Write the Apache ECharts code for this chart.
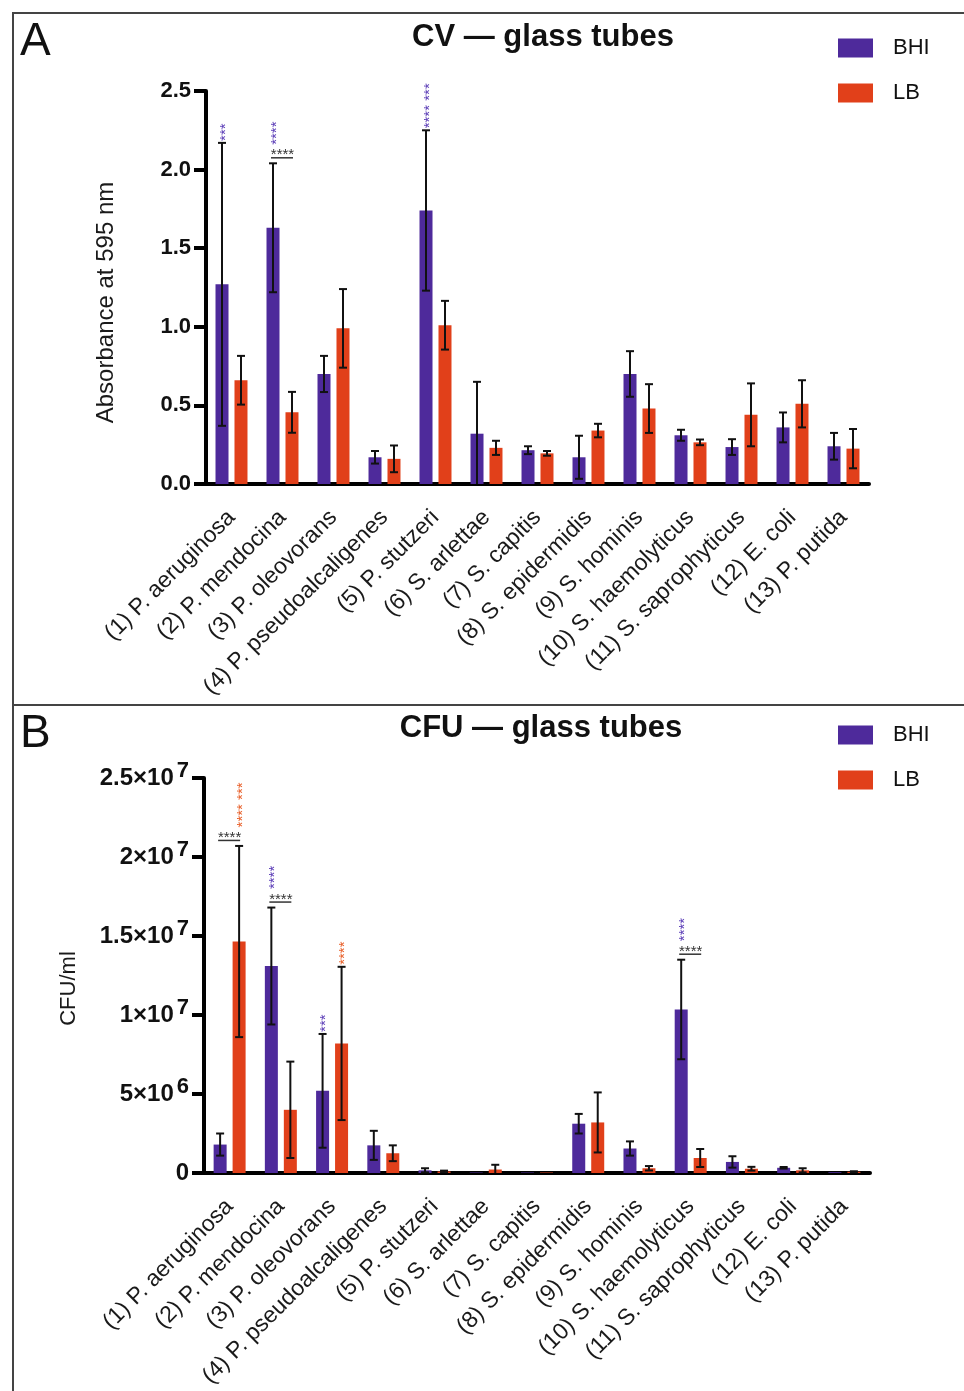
<!DOCTYPE html>
<html><head><meta charset="utf-8">
<script src="https://cdn.jsdelivr.net/npm/echarts@6/dist/echarts.min.js"></script>
<style>html,body{margin:0;padding:0;background:#fff}#c{width:964px;height:1391px}</style>
</head><body><div id="c"></div><script>
// ---------- data ----------
const categories = ['(1) P. aeruginosa','(2) P. mendocina','(3) P. oleovorans','(4) P. pseudoalcaligenes','(5) P. stutzeri','(6) S. arlettae','(7) S. capitis','(8) S. epidermidis','(9) S. hominis','(10) S. haemolyticus','(11) S. saprophyticus','(12) E. coli','(13) P. putida'];
const seriesNames = ['BHI','LB'];

// Panel A: CV absorbance at 595 nm
const cvBHI    = [1.27, 1.63, 0.70, 0.17, 1.74, 0.32, 0.215, 0.17, 0.70, 0.31, 0.235, 0.36, 0.24];
const cvBHIerr = [0.90, 0.41, 0.115, 0.04, 0.51, 0.33, 0.025, 0.137, 0.145, 0.035, 0.05, 0.095, 0.085];
const cvLB     = [0.66, 0.456, 0.99, 0.16, 1.01, 0.23, 0.195, 0.34, 0.48, 0.265, 0.44, 0.51, 0.225];
const cvLBerr  = [0.155, 0.13, 0.25, 0.085, 0.155, 0.045, 0.015, 0.043, 0.155, 0.018, 0.2, 0.15, 0.125];
const cvTicks  = [0, 0.5, 1.0, 1.5, 2.0, 2.5];

// Panel B: CFU/ml
const cfuBHI    = [1.8e6, 13.1e6, 5.2e6, 1.75e6, 0.17e6, 0.03e6, 0.03e6, 3.12e6, 1.55e6, 10.35e6, 0.7e6, 0.33e6, 0.05e6];
const cfuBHIerr = [0.7e6, 3.7e6, 3.6e6, 0.92e6, 0.13e6, 0, 0, 0.62e6, 0.45e6, 3.15e6, 0.36e6, 0.05e6, 0];
const cfuLB     = [14.65e6, 4.0e6, 8.2e6, 1.25e6, 0.1e6, 0.22e6, 0.03e6, 3.2e6, 0.3e6, 0.95e6, 0.27e6, 0.17e6, 0.08e6];
const cfuLBerr  = [6.05e6, 3.05e6, 4.85e6, 0.5e6, 0.05e6, 0.3e6, 0, 1.9e6, 0.14e6, 0.57e6, 0.12e6, 0.13e6, 0.03e6];
const cfuTickLabels = ['0', '5×10|6', '1×10|7', '1.5×10|7', '2×10|7', '2.5×10|7'];

// significance marks: [group index, series, text]
const cvMarks     = [[0,'BHI','***'], [1,'BHI','****'], [4,'BHI','**** ***']];
const cvBrackets  = [[1,'****']];
const cfuMarks    = [[0,'LB','**** ***'], [1,'BHI','****'], [2,'BHI','***'], [2,'LB','****'], [9,'BHI','****']];
const cfuBrackets = [[0,'****'], [1,'****'], [9,'****']];

// ---------- styling ----------
const PURPLE = '#4E2A9B', ORANGE = '#E1401A';
const STAR = {BHI: '#5E40B8', LB: '#E8602A'};
const FONT = '"Liberation Sans", Arial, Helvetica, sans-serif';
const BAR_W = 13, OFFSET = 9.5;
const OFF = {BHI: -OFFSET, LB: OFFSET};

const chart = echarts.init(document.getElementById('c'), null, {renderer: 'canvas'});

function errSeries(name, gi, vals, errs, s) {
  return {
    type: 'custom', name, xAxisIndex: gi, yAxisIndex: gi, z: 5, silent: true, clip: false,
    data: vals.map((v, i) => [i, v, errs[i]]),
    renderItem(params, api) {
      const i = api.value(0), m = api.value(1), e = api.value(2);
      if (!e) return null;
      const t = api.coord([i, m + e]);
      const lowV = Math.max(0, m - e);
      const b = api.coord([i, lowV]);
      const x = t[0] + OFF[s], cw = 4;
      const st = {stroke: '#111', lineWidth: 2};
      const ch = [
        {type: 'line', shape: {x1: x, y1: t[1], x2: x, y2: b[1]}, style: st},
        {type: 'line', shape: {x1: x - cw, y1: t[1], x2: x + cw, y2: t[1]}, style: st}
      ];
      if (m - e > 0) ch.push({type: 'line', shape: {x1: x - cw, y1: b[1], x2: x + cw, y2: b[1]}, style: st});
      return {type: 'group', children: ch};
    }
  };
}

function sigSeries(gi, vals, errs, marks, brackets) {
  const all = marks.concat(brackets);
  return {
    type: 'custom', xAxisIndex: gi, yAxisIndex: gi, z: 6, silent: true, clip: false,
    data: all.map(m => [m[0], 0]),
    renderItem(params, api) {
      const idx = params.dataIndex;
      const g = api.value(0);
      const top = s => {
        const p = api.coord([g, vals[s][g] + errs[s][g]]);
        return [p[0] + OFF[s], p[1]];
      };
      const br = brackets.find(b => b[0] === g);
      const bY = Math.min(top('BHI')[1], top('LB')[1]) - 5.5;
      if (idx < marks.length) {
        const m = marks[idx];
        const p = top(m[1]);
        const y = br ? bY - 13 : p[1] - 2;
        return {type: 'text', x: p[0] + 3.5, y: y, rotation: Math.PI / 2,
          style: {text: m[2], fill: STAR[m[1]], font: '15px ' + FONT, align: 'left', verticalAlign: 'middle'}};
      }
      const b = brackets[idx - marks.length];
      const x1 = top('BHI')[0], x2 = top('LB')[0];
      return {type: 'group', children: [
        {type: 'line', shape: {x1: x1 - 2, y1: bY, x2: x2 + 1, y2: bY}, style: {stroke: '#333', lineWidth: 1.5}},
        {type: 'text', x: (x1 + x2) / 2, y: bY + 5,
          style: {text: b[1], fill: '#333', font: '15px ' + FONT, align: 'center', verticalAlign: 'bottom'}}
      ]};
    }
  };
}

const axisLineStyle = {lineStyle: {color: '#000', width: 4}};
const xAxisCommon = {
  type: 'category', data: categories,
  axisLine: axisLineStyle,
  axisTick: {alignWithLabel: true, length: 12, lineStyle: {color: '#000', width: 4}},
  axisLabel: {interval: 0, rotate: 45, fontSize: 23, color: '#1a1a1a', fontFamily: FONT, margin: 30},
  splitLine: {show: false}
};

const option = {
  animation: false,
  backgroundColor: '#fff',
  textStyle: {fontFamily: FONT},
  title: [
    {text: 'A', left: 15, top: 14, textStyle: {fontSize: 46, fontWeight: 'normal', color: '#111', fontFamily: FONT}},
    {text: 'CV — glass tubes', left: 538, top: 17, textAlign: 'center', textStyle: {fontSize: 31, fontWeight: 'bold', color: '#111', fontFamily: FONT}},
    {text: 'B', left: 15, top: 706, textStyle: {fontSize: 46, fontWeight: 'normal', color: '#111', fontFamily: FONT}},
    {text: 'CFU — glass tubes', left: 536, top: 708, textAlign: 'center', textStyle: {fontSize: 31, fontWeight: 'bold', color: '#111', fontFamily: FONT}}
  ],
  legend: [
    {data: seriesNames, left: 833, top: 32, orient: 'vertical', itemWidth: 35, itemHeight: 19, itemGap: 23, icon: 'rect', selectedMode: false,
      textStyle: {fontSize: 22, color: '#111', fontFamily: FONT, padding: [0, 0, 0, 15]}},
    {data: seriesNames, left: 833, top: 719, orient: 'vertical', itemWidth: 35, itemHeight: 19, itemGap: 23, icon: 'rect', selectedMode: false,
      textStyle: {fontSize: 22, color: '#111', fontFamily: FONT, padding: [0, 0, 0, 15]}}
  ],
  graphic: [
    {type: 'rect', shape: {x: 13, y: 13, width: 1000, height: 692}, style: {fill: 'none', stroke: '#444', lineWidth: 2}, silent: true},
    {type: 'rect', shape: {x: 13, y: 705, width: 1000, height: 720}, style: {fill: 'none', stroke: '#444', lineWidth: 2}, silent: true}
  ],
  grid: [
    {left: 206, top: 91, width: 663, height: 393},
    {left: 204, top: 778, width: 666, height: 395}
  ],
  xAxis: [
    Object.assign({gridIndex: 0}, xAxisCommon),
    Object.assign({gridIndex: 1}, xAxisCommon)
  ],
  yAxis: [
    {gridIndex: 0, type: 'value', min: cvTicks[0], max: cvTicks[cvTicks.length - 1], interval: 0.5,
      name: 'Absorbance at 595 nm', nameLocation: 'middle', nameGap: 88, nameRotate: 90,
      nameTextStyle: {fontSize: 24, color: '#1a1a1a', fontFamily: FONT, padding: [0, 30, 0, 0]},
      axisLine: {show: true, lineStyle: {color: '#000', width: 4}},
      axisTick: {show: true, length: 12, lineStyle: {color: '#000', width: 4}},
      axisLabel: {fontSize: 22, fontWeight: 'bold', color: '#111', fontFamily: FONT, margin: 15, formatter: v => v.toFixed(1)},
      splitLine: {show: false}},
    {gridIndex: 1, type: 'value', min: 0, max: 2.5e7, interval: 5e6,
      name: 'CFU/ml', nameLocation: 'middle', nameGap: 124, nameRotate: 90,
      nameTextStyle: {fontSize: 22, color: '#1a1a1a', fontFamily: FONT, padding: [0, 26, 0, 0]},
      axisLine: {show: true, lineStyle: {color: '#000', width: 4}},
      axisTick: {show: true, length: 12, lineStyle: {color: '#000', width: 4}},
      axisLabel: {margin: 15, color: '#111',
        formatter: v => {
          const lab = cfuTickLabels[Math.round(v / 5e6)];
          const parts = lab.split('|');
          return parts.length > 1 ? '{a|' + parts[0] + '}{s|' + parts[1] + '}' : '{a|' + parts[0] + '}';
        },
        rich: {
          a: {fontSize: 24, fontWeight: 'bold', color: '#111', fontFamily: FONT, lineHeight: 26},
          s: {fontSize: 22, fontWeight: 'bold', color: '#111', fontFamily: FONT, padding: [0, 0, 14, 3]}
        }},
      splitLine: {show: false}}
  ],
  series: [
    {name: 'BHI', type: 'bar', xAxisIndex: 0, yAxisIndex: 0, data: cvBHI, barWidth: BAR_W, barGap: '46%', itemStyle: {color: PURPLE}},
    {name: 'LB', type: 'bar', xAxisIndex: 0, yAxisIndex: 0, data: cvLB, barWidth: BAR_W, barGap: '46%', itemStyle: {color: ORANGE}},
    {name: 'BHI', type: 'bar', xAxisIndex: 1, yAxisIndex: 1, data: cfuBHI, barWidth: BAR_W, barGap: '46%', itemStyle: {color: PURPLE}},
    {name: 'LB', type: 'bar', xAxisIndex: 1, yAxisIndex: 1, data: cfuLB, barWidth: BAR_W, barGap: '46%', itemStyle: {color: ORANGE}},
    errSeries('errA_BHI', 0, cvBHI, cvBHIerr, 'BHI'),
    errSeries('errA_LB', 0, cvLB, cvLBerr, 'LB'),
    errSeries('errB_BHI', 1, cfuBHI, cfuBHIerr, 'BHI'),
    errSeries('errB_LB', 1, cfuLB, cfuLBerr, 'LB'),
    sigSeries(0, {BHI: cvBHI, LB: cvLB}, {BHI: cvBHIerr, LB: cvLBerr}, cvMarks, cvBrackets),
    sigSeries(1, {BHI: cfuBHI, LB: cfuLB}, {BHI: cfuBHIerr, LB: cfuLBerr}, cfuMarks, cfuBrackets)
  ]
};
chart.setOption(option);
</script></body></html>
